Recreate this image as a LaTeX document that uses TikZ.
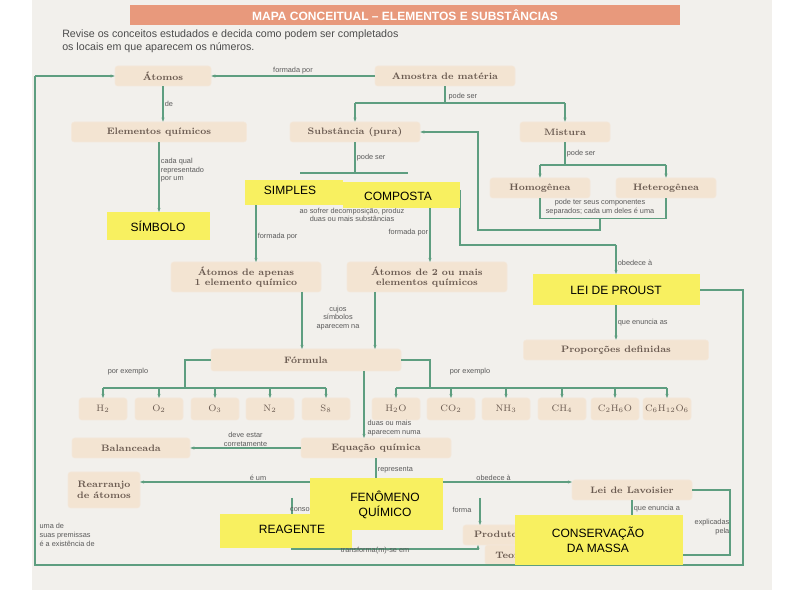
\documentclass[tikz,border=0pt]{standalone}
\usepackage{fontspec}
\setsansfont{Liberation Sans}
\usetikzlibrary{arrows.meta}
\definecolor{pg}{HTML}{F2F0EC}
\definecolor{bx}{HTML}{F3E4D2}
\definecolor{gl}{HTML}{5E9E80}
\definecolor{hd}{HTML}{E8997C}
\definecolor{yl}{HTML}{F8F060}
\definecolor{tx}{HTML}{6A5A50}
\tikzset{
 bxs/.style={draw=bx!70!brown!40,fill=bx,rounded corners=2pt,minimum height=15pt,font=\rmfamily\bfseries\scriptsize,text=tx,inner sep=1pt},
 w/.style={minimum width=#1*0.75pt},
 hh/.style={minimum height=#1*0.75pt},
 lbl/.style={font=\sffamily\fontsize{5.5}{6.5}\selectfont,text=gray!70!black,align=center,inner sep=1pt},
 ytx/.style={font=\sffamily\small,align=center,inner sep=0pt},
 con/.style={draw=gl,line width=0.8pt},
 arr/.style={con,-{Stealth[length=3pt]}}
}
\begin{document}
\begin{tikzpicture}[x=0.75pt,y=-0.75pt]
\useasboundingbox (0,0) rectangle (794,595);
\fill[white] (0,0) rectangle (794,595);
\fill[pg] (32,0) rectangle (772,590);
\fill[hd] (130,5) rectangle (680,25);
\node[font=\sffamily\bfseries\small,text=white] (title) at (405,15) {MAPA CONCEITUAL -- ELEMENTOS E SUBSTÂNCIAS};
\node[font=\sffamily\footnotesize,text=gray!60!black,align=left,anchor=north west,inner sep=0pt] (intro) at (62,30) {Revise os conceitos estudados e decida como podem ser completados\\os locais em que aparecem os números.};
% boxes
\node[bxs,w=96] (at) at (163,76) {Átomos};
\node[bxs,w=140] (am) at (445,76) {Amostra de matéria};
\node[bxs,w=175] (el) at (159,132) {Elementos químicos};
\node[bxs,w=130] (su) at (355,132) {Substância (pura)};
\node[bxs,w=90] (mi) at (565,132) {Mistura};
\node[bxs,w=100] (ho) at (540,188) {Homogênea};
\node[bxs,w=100] (he) at (666,188) {Heterogênea};
\node[bxs,w=150,hh=30,align=center,font=\rmfamily\bfseries\fontsize{7}{7.5}\selectfont] (a1) at (246,277) {Átomos de apenas\\1 elemento químico};
\node[bxs,w=160,hh=30,align=center,font=\rmfamily\bfseries\fontsize{7}{7.5}\selectfont] (a2) at (427,277) {Átomos de 2 ou mais\\elementos químicos};
\node[bxs,w=185] (pd) at (616,350) {Proporções definidas};
\node[bxs,w=190,hh=22] (fo) at (306,360) {Fórmula};
\foreach \n/\x/\t in {b1/103/H$_2$,b2/159/O$_2$,b3/215/O$_3$,b4/270/N$_2$,b5/326/S$_8$,b6/396/H$_2$O,b7/451/CO$_2$,b8/506/NH$_3$,b9/562/CH$_4$,b10/615/C$_2$H$_6$O,b11/667/C$_6$H$_{12}$O$_6$}
  \node[bxs,w=48,hh=22,font=\rmfamily\scriptsize] (\n) at (\x,409) {\t};
\node[bxs,w=118] (ba) at (131,448) {Balanceada};
\node[bxs,w=150] (eq) at (376,448) {Equação química};
\node[bxs,w=72,hh=36,align=center] (re) at (104,490) {Rearranjo\\de átomos};
\node[bxs,w=120] (lv) at (632,490) {Lei de Lavoisier};
\node[bxs,w=80] (pr) at (503,535) {Produto(s)};
\node[bxs,w=110] (da) at (540,555) {Teoria de Dalton};
% connectors
\draw[arr] (am) -- node[lbl,above]{formada por} (at);
\draw[con] (am) -- (445,103);
\draw[con] (355,103) -- (565,103);
\draw[arr] (355,103) -- (su);
\draw[arr] (565,103) -- (mi);
\node[lbl,right] (l1) at (447,97) {pode ser};
\draw[arr] (at) -- node[lbl,right]{de} (at|-el.north);
\draw[arr] (el) -- node[lbl,right,align=left,pos=0.4]{cada qual\\representado\\por um} (159,212);
\draw[con] (su) -- node[lbl,right]{pode ser} (355,173);
\draw[con] (300,173) -- (408,173);
\draw[con] (mi) -- node[lbl,right]{pode ser} (565,165);
\draw[con] (540,165) -- (666,165);
\draw[arr] (540,165) -- (ho);
\draw[arr] (666,165) -- (he);
\draw[con] (ho.south) -- ++(0,20) -- ++(126,0) -- (he.south);
\draw[arr] (600,218) -- (600,230) -- (478,230) -- (478,132) -- (su);
\node[lbl] (l2) at (600,207) {pode ter seus componentes\\separados; cada um deles é uma};
\draw[arr] (256,205) -- node[lbl,right,pos=0.55]{formada por} (256,262);
\draw[arr] (430,208) -- node[lbl,left,pos=0.45]{formada por} (430,262);
\draw[con] (460,190) -- (460,245) -- (616,245);
\draw[arr] (616,245) -- node[lbl,right,pos=0.6]{obedece à} (616,274);
\node[lbl] (l3) at (352,215) {ao sofrer decomposição, produz\\duas ou mais substâncias};
\draw[arr] (616,305) -- node[lbl,right]{que enuncia as} (pd);
\draw[arr] (302,292) -- (302,349);
\draw[arr] (375,292) -- (375,349);
\node[lbl] (l4) at (338,318) {cujos\\símbolos\\aparecem na};
\draw[con] (fo.west) -- (185,360) -- (185,388);
\draw[con] (103,388) -- (326,388);
\foreach \x in {103,159,215,270,326} \draw[arr] (\x,388) -- (\x,398);
\draw[con] (fo.east) -- (430,360) -- (430,388);
\draw[con] (396,388) -- (667,388);
\foreach \x in {396,451,506,562,615,667} \draw[arr] (\x,388) -- (\x,398);
\node[lbl] (l5) at (128,372) {por exemplo};
\node[lbl] (l6) at (470,372) {por exemplo};
\draw[arr] (364,371) -- (364,438);
\node[lbl,align=left,right] (l7) at (366,428) {duas ou mais\\aparecem numa};
\draw[arr] (eq) -- node[lbl,above]{deve estar\\corretamente} (ba);
\draw[con] (eq) -- node[lbl,right]{representa} (376,482);
\draw[arr] (376,482) -- node[lbl,above,pos=0.5]{é um} (140,482);
\draw[arr] (376,482) -- node[lbl,above,pos=0.6]{obedece à} (572,482);
\draw[arr] (292,498) -- (292,549) -- (478,549) -- (478,545);
\draw[arr] (480,498) -- (480,525);
\draw[arr] (lv) -- node[lbl,right,pos=0.4]{que enuncia a} (632,520);
\draw[arr] (lv.east) -- (730,490) -- (730,555) -- (da);
\node[lbl,align=right] (l8) at (712,527) {explicadas\\pela};
\draw[con] (700,290) -- (743,290) -- (743,565) -- (35,565) -- (35,76);
\draw[arr] (35,76) -- (at);
\node[lbl,align=left,anchor=west] (l9) at (38,535) {uma de\\suas premissas\\é a existência de};
\node[lbl] (l10) at (305,510) {consome};
\node[lbl] (l11) at (462,510) {forma};
\node[lbl] (l12) at (375,551) {transforma(m)-se em};
% yellow overlays
\fill[yl] (245,180) rectangle (343,205);
\node[ytx] (s1) at (290,190) {SIMPLES};
\fill[yl] (343,182) rectangle (460,208);
\node[ytx] (s2) at (398,196) {COMPOSTA};
\fill[yl] (107,212) rectangle (210,240);
\node[ytx] (s3) at (158,226) {SÍMBOLO};
\fill[yl] (533,274) rectangle (700,305);
\node[ytx] (s4) at (616,290) {LEI DE PROUST};
\fill[yl] (310,478) rectangle (443,530);
\node[ytx] (s5) at (385,505) {FENÔMENO\\QUÍMICO};
\fill[yl] (220,514) rectangle (352,548);
\node[ytx] (s6) at (292,529) {REAGENTE};
\fill[yl] (515,515) rectangle (683,565);
\node[ytx] (s7) at (598,540) {CONSERVAÇÃO\\DA MASSA};
\end{tikzpicture}
\end{document}
